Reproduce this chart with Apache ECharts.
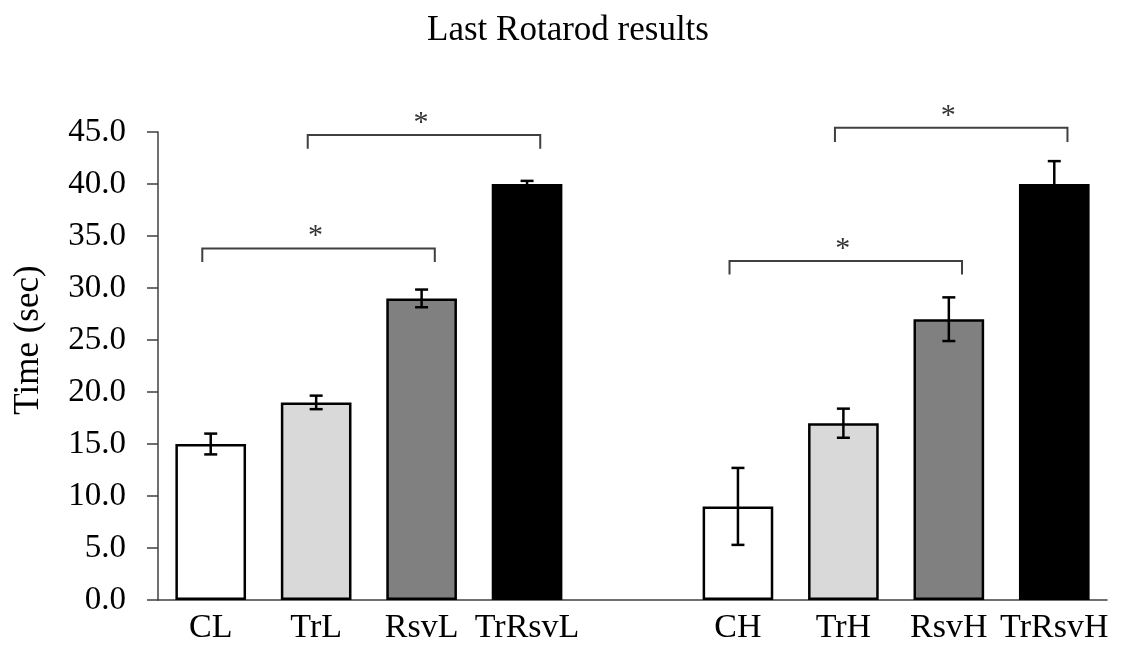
<!DOCTYPE html>
<html>
<head>
<meta charset="utf-8">
<title>Last Rotarod results</title>
<script src="https://cdn.jsdelivr.net/npm/echarts@6/dist/echarts.min.js"></script>
<style>
  html, body { margin: 0; padding: 0; background: #ffffff; }
  #chart { width: 1136px; height: 645px; }
</style>
</head>
<body>
<div id="chart"></div>
<script>
// Group labels; the empty entry is the gap between the L and H groups
const categories = ['CL', 'TrL', 'RsvL', 'TrRsvL', '', 'CH', 'TrH', 'RsvH', 'TrRsvH'];
// Mean time on the rod (sec)
const meanTime = [15.0, 19.0, 29.0, 40.0, null, 9.0, 17.0, 27.0, 40.0];
// Error bar half-lengths (sec)
const errTime = [1.0, 0.65, 0.85, 0.3, null, 3.7, 1.4, 2.1, 2.2];
// Y-axis ticks
const yTicks = [0, 5, 10, 15, 20, 25, 30, 35, 40, 45];
// Significance brackets: [from group, to group, bracket level, leg drop]
const sigFrom = ['CL', 'TrL', 'CH', 'TrH'];
const sigTo = ['RsvL', 'TrRsvL', 'RsvH', 'TrRsvH'];
const sigLevel = [33.8, 44.7, 32.6, 45.4];
const sigDrop = [1.3, 1.3, 1.3, 1.35];
const sigMark = ['*', '*', '*', '*'];

// Fill colour by position inside each group of four
const groupFills = ['#ffffff', '#d9d9d9', '#808080', '#000000'];
const serif = '"Liberation Serif", "DejaVu Serif", serif';
const axisGrey = '#404040';

const barData = meanTime.map((v, i) => {
  if (v === null) return null;
  const pos = i < 4 ? i : i - 5;
  return { value: v, itemStyle: { color: groupFills[pos] } };
});

const errData = [];
meanTime.forEach((v, i) => {
  if (v !== null) errData.push([i, v, errTime[i]]);
});

const sigData = sigFrom.map((f, k) => [
  categories.indexOf(f), categories.indexOf(sigTo[k]), sigLevel[k], sigDrop[k], k
]);

const chart = echarts.init(document.getElementById('chart'), null, { renderer: 'canvas' });

chart.setOption({
  backgroundColor: '#ffffff',
  animation: false,
  title: {
    text: 'Last Rotarod results',
    left: 'center',
    top: 8,
    textStyle: { fontFamily: serif, fontSize: 35, fontWeight: 'normal', color: '#000000' }
  },
  grid: { left: 158, right: 29, top: 132, bottom: 43, containLabel: false },
  xAxis: {
    type: 'category',
    data: categories,
    axisTick: { show: false },
    axisLine: { lineStyle: { color: axisGrey, width: 1.5 } },
    axisLabel: {
      interval: 0, margin: 11, color: '#000000',
      fontFamily: serif, fontSize: 34
    },
    splitLine: { show: false }
  },
  yAxis: {
    type: 'value',
    min: yTicks[0],
    max: yTicks[yTicks.length - 1],
    interval: yTicks[1] - yTicks[0],
    name: 'Time (sec)',
    nameLocation: 'middle',
    nameGap: 112,
    nameRotate: 90,
    nameTextStyle: { fontFamily: serif, fontSize: 35, color: '#000000', padding: [0, 0, 0, 52] },
    axisLine: { show: true, lineStyle: { color: axisGrey, width: 1.5 } },
    axisTick: { show: true, length: 11, lineStyle: { color: axisGrey, width: 1.5 } },
    axisLabel: {
      margin: 32, color: '#000000', fontFamily: serif, fontSize: 33,
      formatter: v => v.toFixed(1)
    },
    splitLine: { show: false }
  },
  series: [
    {
      type: 'bar',
      data: barData,
      barWidth: '67%',
      itemStyle: { borderColor: '#000000', borderWidth: 2.5 },
      z: 2
    },
    {
      type: 'custom',
      data: errData,
      encode: { x: 0, y: 1 },
      z: 3,
      renderItem: (params, api) => {
        const i = api.value(0), m = api.value(1), e = api.value(2);
        const hi = api.coord([i, m + e]);
        const lo = api.coord([i, m - e]);
        const cap = 6.5;
        const style = { stroke: '#000000', lineWidth: 2.5, fill: null };
        return {
          type: 'group',
          children: [
            { type: 'line', shape: { x1: hi[0], y1: hi[1], x2: lo[0], y2: lo[1] }, style },
            { type: 'line', shape: { x1: hi[0] - cap, y1: hi[1], x2: hi[0] + cap, y2: hi[1] }, style },
            { type: 'line', shape: { x1: lo[0] - cap, y1: lo[1], x2: lo[0] + cap, y2: lo[1] }, style }
          ]
        };
      }
    },
    {
      type: 'custom',
      data: sigData,
      clip: false,
      z: 4,
      renderItem: (params, api) => {
        const a = api.value(0), b = api.value(1), lvl = api.value(2), drop = api.value(3);
        const k = api.value(4);
        const band = api.size([1, 0])[0];
        const pA = api.coord([a, lvl]);
        const pB = api.coord([b, lvl]);
        const yLeg = api.coord([a, lvl - drop])[1];
        const x1 = pA[0] - 0.08 * band;
        const x2 = pB[0] + 0.125 * band;
        const y = pA[1];
        return {
          type: 'group',
          children: [
            {
              type: 'polyline',
              shape: { points: [[x1, yLeg], [x1, y], [x2, y], [x2, yLeg]] },
              style: { stroke: axisGrey, lineWidth: 2, fill: null }
            },
            {
              type: 'text',
              style: {
                text: sigMark[k], x: (x1 + x2) / 2 - 3, y: y + 3,
                align: 'center', verticalAlign: 'bottom',
                fontFamily: serif, fontSize: 30, fill: '#333333'
              }
            }
          ]
        };
      }
    }
  ]
});
</script>
</body>
</html>
